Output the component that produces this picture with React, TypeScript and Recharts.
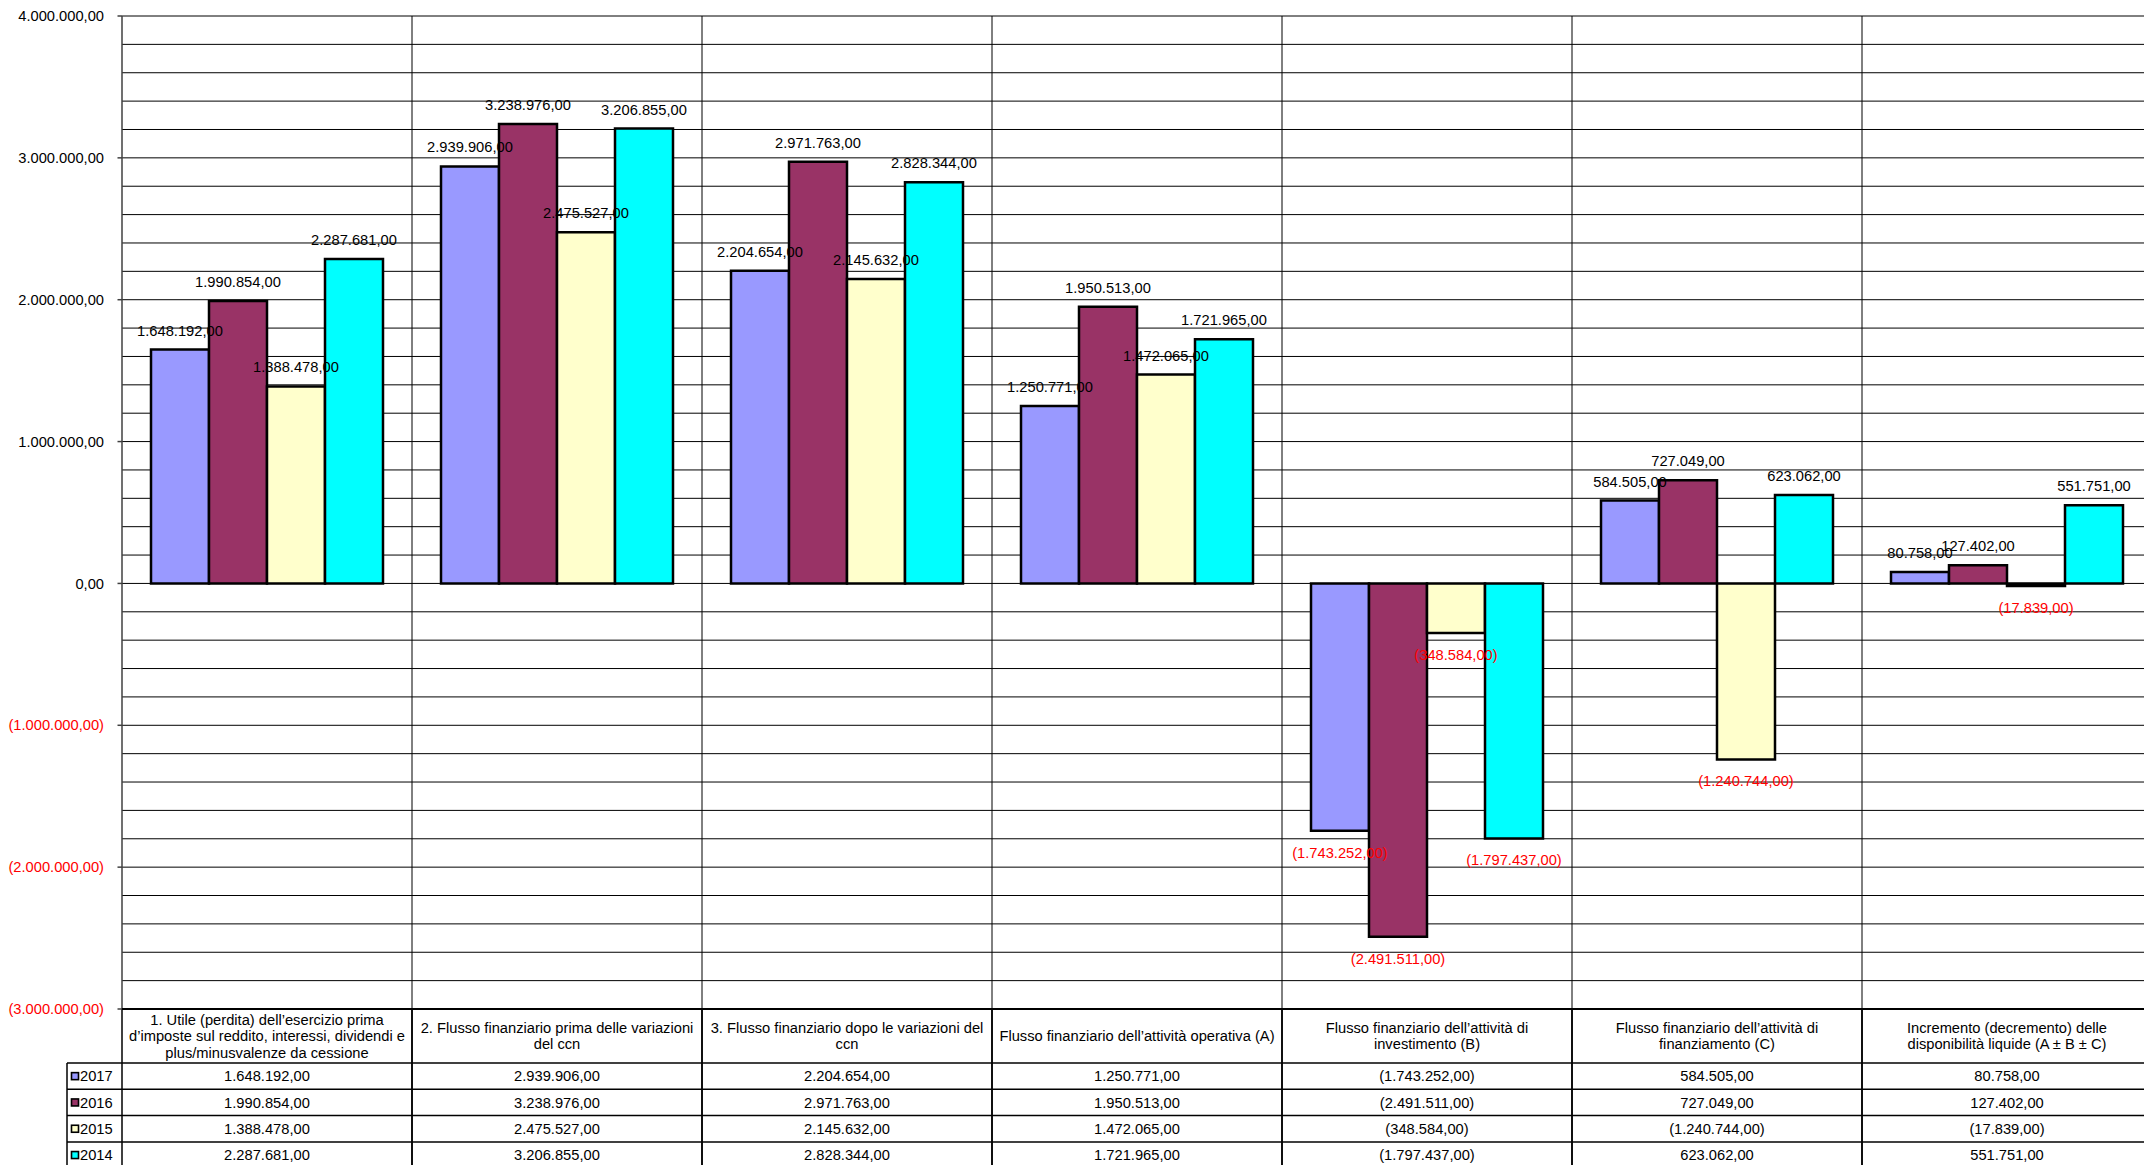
import React from 'react';
import { BarChart, Bar, XAxis, YAxis, CartesianGrid, LabelList } from 'recharts';

const categories = [
  '1. Utile (perdita) dell’esercizio prima\nd’imposte sul reddito, interessi, dividendi e\nplus/minusvalenze da cessione',
  '2. Flusso finanziario prima delle variazioni\ndel ccn',
  '3. Flusso finanziario dopo le variazioni del\nccn',
  'Flusso finanziario dell’attività operativa (A)',
  'Flusso finanziario dell’attività di\ninvestimento (B)',
  'Flusso finanziario dell’attività di\nfinanziamento (C)',
  'Incremento (decremento) delle\ndisponibilità liquide (A ± B ± C)',
];

const values2017 = [1648192, 2939906, 2204654, 1250771, -1743252, 584505, 80758];
const values2016 = [1990854, 3238976, 2971763, 1950513, -2491511, 727049, 127402];
const values2015 = [1388478, 2475527, 2145632, 1472065, -348584, -1240744, -17839];
const values2014 = [2287681, 3206855, 2828344, 1721965, -1797437, 623062, 551751];

const seriesNames = ['2017', '2016', '2015', '2014'];
const seriesKeys = ['y2017', 'y2016', 'y2015', 'y2014'];
const seriesColors = ['#9999FF', '#993366', '#FFFFCC', '#00FFFF'];
const seriesValues = [values2017, values2016, values2015, values2014];

const yDomain = [-3000000, 4000000];
const yTicks = [
  -3000000, -2800000, -2600000, -2400000, -2200000,
  -2000000, -1800000, -1600000, -1400000, -1200000,
  -1000000, -800000, -600000, -400000, -200000,
  0, 200000, 400000, 600000, 800000,
  1000000, 1200000, 1400000, 1600000, 1800000,
  2000000, 2200000, 2400000, 2600000, 2800000,
  3000000, 3200000, 3400000, 3600000, 3800000,
  4000000,
];

const data = categories.map((c, i) => ({
  category: c,
  y2017: values2017[i],
  y2016: values2016[i],
  y2015: values2015[i],
  y2014: values2014[i],
}));

const FONT = '"Liberation Sans", Arial, Helvetica, sans-serif';
const FS = 14.7;
const CHART_W = 2152;
const CHART_H = 1169;
const MARGIN = { top: 16, right: 0, bottom: 0, left: 0 };
const XAXIS_H = 160;
const YAXIS_W = 122;

const fmtNum = (v: number) => {
  const abs = Math.abs(v);
  const [int, dec] = abs.toFixed(2).split('.');
  const intF = int.replace(/\B(?=(\d{3})+(?!\d))/g, '.');
  const s = `${intF},${dec}`;
  return v < 0 ? `(${s})` : s;
};

const YTick = (props: any) => {
  const { x, y, payload } = props;
  const v = Number(payload.value);
  if (v % 1000000 !== 0) return <g />;
  return (
    <g>
      <line x1={x - 4.5} x2={x} y1={y} y2={y} stroke="#404040" strokeWidth={1.5} />
      <text
        x={x - 18}
        y={y}
        dy="0.35em"
        textAnchor="end"
        fill={v < 0 ? '#FF0000' : '#000'}
        style={{ fontFamily: FONT, fontSize: FS }}
      >
        {fmtNum(v)}
      </text>
    </g>
  );
};

const HEADER_H = 54;
const ROW_H = 26.3;
const LINE_H = 16.5;
const LEGEND_W = 55;

const TableTick = (props: any) => {
  const { x, y, payload } = props;
  const count = props.visibleTicksCount || categories.length;
  const colW = props.width ? props.width / count : 290;
  const i = payload.index ?? props.index ?? 0;
  const left = x - colW / 2;
  const right = x + colW / 2;
  const lines = String(payload.value).split('\n');
  const headerMid = y + HEADER_H / 2;
  const bottom = y + HEADER_H + ROW_H * seriesNames.length + 4;
  const textStyle = { fontFamily: FONT, fontSize: FS };
  return (
    <g>
      <line x1={left} x2={right} y1={y} y2={y} stroke="#000" strokeWidth={2} />
      <line x1={left} x2={left} y1={y} y2={bottom} stroke="#000" strokeWidth={1.5} />
      <line x1={right} x2={right} y1={y} y2={bottom} stroke="#000" strokeWidth={1.5} />
      {lines.map((ln, k) => (
        <text
          key={k}
          x={x}
          y={headerMid + (k - (lines.length - 1) / 2) * LINE_H}
          dy="0.35em"
          textAnchor="middle"
          fill="#000"
          style={textStyle}
        >
          {ln}
        </text>
      ))}
      {seriesNames.map((name, s) => {
        const rowTop = y + HEADER_H + s * ROW_H;
        return (
          <g key={name}>
            <line x1={left} x2={right} y1={rowTop} y2={rowTop} stroke="#000" strokeWidth={1.5} />
            <text
              x={x}
              y={rowTop + ROW_H / 2}
              dy="0.35em"
              textAnchor="middle"
              fill="#000"
              style={textStyle}
            >
              {fmtNum(seriesValues[s][i])}
            </text>
          </g>
        );
      })}
      {i === 0 && (
        <g>
          <line
            x1={left - LEGEND_W}
            x2={left - LEGEND_W}
            y1={y + HEADER_H}
            y2={bottom}
            stroke="#000"
            strokeWidth={1.5}
          />
          {seriesNames.map((name, s) => {
            const rowTop = y + HEADER_H + s * ROW_H;
            const mid = rowTop + ROW_H / 2;
            return (
              <g key={name}>
                <line
                  x1={left - LEGEND_W}
                  x2={left}
                  y1={rowTop}
                  y2={rowTop}
                  stroke="#000"
                  strokeWidth={1.5}
                />
                <rect
                  x={left - LEGEND_W + 4.5}
                  y={mid - 3.5}
                  width={7}
                  height={7}
                  fill={seriesColors[s]}
                  stroke="#000"
                  strokeWidth={1.6}
                />
                <text
                  x={left - LEGEND_W + 13}
                  y={mid}
                  dy="0.35em"
                  textAnchor="start"
                  fill="#000"
                  style={textStyle}
                >
                  {name}
                </text>
              </g>
            );
          })}
        </g>
      )}
    </g>
  );
};

const renderLabel = (props: any) => {
  const vb = props.viewBox || {};
  const x = props.x ?? vb.x;
  const y = props.y ?? vb.y;
  const width = props.width ?? vb.width;
  const height = props.height ?? vb.height;
  const value = Number(props.value);
  if (x == null || y == null || isNaN(value)) return null;
  const top = Math.min(y, y + height);
  const bot = Math.max(y, y + height);
  const cx = x + width / 2;
  const neg = value < 0;
  return (
    <text
      x={cx}
      y={neg ? bot + 27 : top - 14}
      textAnchor="middle"
      fill={neg ? '#FF0000' : '#000'}
      style={{ fontFamily: FONT, fontSize: FS }}
    >
      {fmtNum(value)}
    </text>
  );
};

export default function App() {
  return (
    <div
      style={{
        position: 'absolute',
        left: 0,
        top: 0,
        width: 2144,
        height: 1165,
        overflow: 'hidden',
        background: '#fff',
      }}
    >
      <div style={{ position: 'absolute', left: 0, top: 0 }}>
        <BarChart
          width={CHART_W}
          height={CHART_H}
          data={data}
          margin={MARGIN}
          barCategoryGap={29}
          barGap={0}
          style={{ fontFamily: FONT }}
        >
          <CartesianGrid
            stroke="#000"
            strokeWidth={1}
            verticalCoordinatesGenerator={(p: any) => {
              const off = p.offset;
              const n = categories.length;
              return categories.slice(1).map((_, k) => off.left + ((k + 1) * off.width) / n);
            }}
          />
          <XAxis
            dataKey="category"
            interval={0}
            height={XAXIS_H}
            axisLine={false}
            tickLine={false}
            tickSize={0}
            tickMargin={0}
            tick={<TableTick />}
          />
          <YAxis
            width={YAXIS_W}
            domain={yDomain}
            ticks={yTicks}
            interval={0}
            allowDataOverflow
            tickLine={false}
            tickSize={0}
            tickMargin={0}
            axisLine={{ stroke: '#404040', strokeWidth: 1.5 }}
            tick={<YTick />}
          />
          {seriesKeys.map((k, s) => (
            <Bar
              key={k}
              dataKey={k}
              name={seriesNames[s]}
              fill={seriesColors[s]}
              stroke="#000"
              strokeWidth={2.5}
              isAnimationActive={false}
            />
          ))}
        </BarChart>
      </div>
      <div style={{ position: 'absolute', left: 0, top: 0, pointerEvents: 'none' }}>
        <BarChart
          width={CHART_W}
          height={CHART_H}
          data={data}
          margin={MARGIN}
          barCategoryGap={29}
          barGap={0}
          style={{ fontFamily: FONT }}
        >
          <XAxis
            dataKey="category"
            interval={0}
            height={XAXIS_H}
            axisLine={false}
            tickLine={false}
            tick={false}
          />
          <YAxis
            width={YAXIS_W}
            domain={yDomain}
            ticks={yTicks}
            interval={0}
            allowDataOverflow
            axisLine={false}
            tickLine={false}
            tick={false}
          />
          {seriesKeys.map((k, s) => (
            <Bar
              key={k}
              dataKey={k}
              name={seriesNames[s]}
              fill="none"
              stroke="none"
              isAnimationActive={false}
            >
              <LabelList dataKey={k} content={renderLabel} />
            </Bar>
          ))}
        </BarChart>
      </div>
    </div>
  );
}
